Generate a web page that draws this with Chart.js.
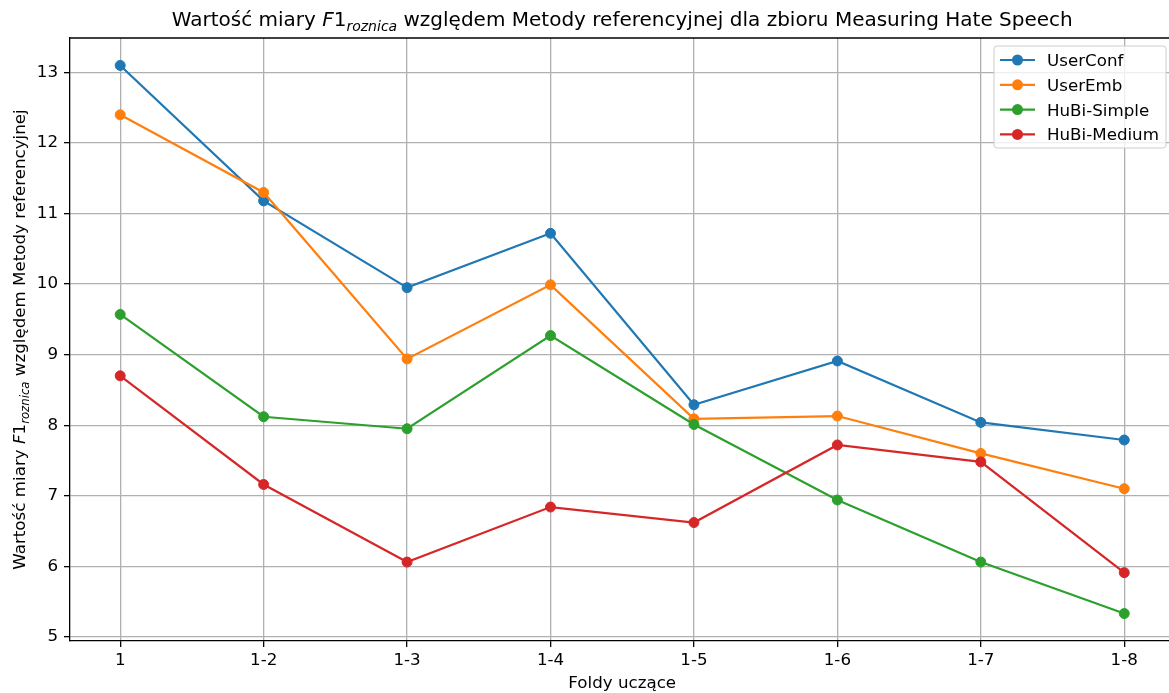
<!DOCTYPE html>
<html>
<head>
<meta charset="utf-8">
<script src="https://cdn.jsdelivr.net/npm/chart.js@4.4.1/dist/chart.umd.min.js"></script>
<style>
  html, body { margin: 0; padding: 0; background: #fff; overflow: hidden; }
  canvas { display: block; }
</style>
</head>
<body>
<canvas id="chart" width="1169" height="693"></canvas>
<script>
const folds = ['1', '1-2', '1-3', '1-4', '1-5', '1-6', '1-7', '1-8']
const yTicks = [5, 6, 7, 8, 9, 10, 11, 12, 13]

const userConf = [13.10, 11.18, 9.95, 10.72, 8.29, 8.91, 8.04, 7.79]
const userEmb = [12.40, 11.30, 8.94, 9.99, 8.09, 8.13, 7.60, 7.10]
const hubiSimple = [9.57, 8.12, 7.95, 9.27, 8.01, 6.94, 6.06, 5.33]
const hubiMedium = [8.70, 7.16, 6.06, 6.84, 6.62, 7.72, 7.48, 5.91]

const seriesNames = ['UserConf', 'UserEmb', 'HuBi-Simple', 'HuBi-Medium']
const seriesValues = [userConf, userEmb, hubiSimple, hubiMedium]
const colors = ['#1f77b4', '#ff7f0e', '#2ca02c', '#d62728']

const FONT = '"DejaVu Sans", sans-serif'
const FS = 16.7

// draws a line of text made of pieces (normal / italic / subscript)
function drawRich(ctx, parts, x, y, align) {
  let total = 0
  parts.forEach(p => {
    ctx.font = (p.italic ? 'italic ' : '') + p.size + 'px ' + FONT
    p.w = ctx.measureText(p.text).width
    total += p.w
  })
  let cx = align === 'center' ? x - total / 2 : x
  ctx.textAlign = 'left'
  ctx.textBaseline = 'alphabetic'
  parts.forEach(p => {
    ctx.font = (p.italic ? 'italic ' : '') + p.size + 'px ' + FONT
    ctx.fillText(p.text, cx, y + (p.dy || 0))
    cx += p.w
  })
}

const decorations = {
  id: 'decorations',
  afterDraw(chart) {
    const ctx = chart.ctx
    const a = chart.chartArea
    ctx.save()
    ctx.fillStyle = '#000'

    // top spine (the right one falls just past the canvas edge)
    ctx.strokeStyle = '#000'
    ctx.lineWidth = 1.3
    ctx.beginPath()
    ctx.moveTo(a.left, a.top)
    ctx.lineTo(a.right, a.top)
    ctx.stroke()

    // middle of the full axis span -0.35 .. 7.35
    const midX = chart.scales.x.getPixelForValue(3.5)
    drawRich(ctx, [
      { text: 'Wartość miary ', size: 20 },
      { text: 'F', size: 20, italic: true },
      { text: '1', size: 20 },
      { text: 'roznica', size: 14, italic: true, dy: 4.5 },
      { text: ' względem Metody referencyjnej dla zbioru Measuring Hate Speech', size: 20 }
    ], midX, 26, 'center')

    ctx.font = FS + 'px ' + FONT
    ctx.textAlign = 'center'
    ctx.fillText('Foldy uczące', midX, 688)

    ctx.save()
    ctx.translate(25, (a.top + a.bottom) / 2)
    ctx.rotate(-Math.PI / 2)
    drawRich(ctx, [
      { text: 'Wartość miary ', size: FS },
      { text: 'F', size: FS, italic: true },
      { text: '1', size: FS },
      { text: 'roznica', size: 11.7, italic: true, dy: 4 },
      { text: ' względem Metody referencyjnej', size: FS }
    ], 0, 0, 'center')
    ctx.restore()

    // legend box
    const lx = 994, ly = 46, lw = 172, lh = 102
    ctx.beginPath()
    ctx.roundRect(lx, ly, lw, lh, 3)
    ctx.fillStyle = 'rgba(255,255,255,0.8)'
    ctx.fill()
    ctx.strokeStyle = '#cccccc'
    ctx.lineWidth = 1
    ctx.stroke()
    seriesNames.forEach((name, i) => {
      const y = 60 + i * 24.8
      ctx.strokeStyle = colors[i]
      ctx.lineWidth = 2.2
      ctx.beginPath()
      ctx.moveTo(1000, y)
      ctx.lineTo(1035, y)
      ctx.stroke()
      ctx.fillStyle = colors[i]
      ctx.beginPath()
      ctx.arc(1017.5, y, 5.5, 0, Math.PI * 2)
      ctx.fill()
      ctx.fillStyle = '#000'
      ctx.font = FS + 'px ' + FONT
      ctx.textAlign = 'left'
      ctx.fillText(name, 1047, y + 6)
    })
    ctx.restore()
  }
}

const datasets = seriesNames.map((name, i) => ({
  label: name,
  data: seriesValues[i].map((v, j) => ({ x: j, y: v })),
  borderColor: colors[i],
  backgroundColor: colors[i],
  borderWidth: 2.2,
  pointRadius: 5,
  pointHoverRadius: 5,
  pointBorderWidth: 1,
  pointBorderColor: colors[i],
  tension: 0,
  clip: false,
  order: seriesNames.length - i
}))

new Chart(document.getElementById('chart'), {
  type: 'line',
  data: { datasets },
  options: {
    responsive: false,
    animation: false,
    devicePixelRatio: 1,
    layout: { autoPadding: false, padding: { top: 38, right: 0, left: 0, bottom: 0 } },
    plugins: {
      legend: { display: false },
      title: { display: false },
      tooltip: { enabled: false }
    },
    scales: {
      x: {
        type: 'linear',
        min: -0.35,
        max: 7.312,
        afterBuildTicks: s => { s.ticks = folds.map((f, i) => ({ value: i })) },
        afterFit: s => { s.height = 52; s.paddingLeft = 0; s.paddingRight = 0 },
        ticks: {
          callback: v => folds[v],
          color: '#000',
          font: { family: FONT, size: FS },
          padding: 4,
          maxRotation: 0
        },
        grid: { color: '#b0b0b0', lineWidth: 1.3, tickColor: '#000', tickLength: 6, tickWidth: 1.3 },
        border: { color: '#000', width: 1.3 }
      },
      y: {
        min: 4.941,
        max: 13.489,
        afterBuildTicks: s => { s.ticks = yTicks.map(v => ({ value: v })) },
        afterFit: s => { s.width = 70; s.paddingTop = 0; s.paddingBottom = 0 },
        ticks: {
          color: '#000',
          font: { family: FONT, size: FS },
          padding: 6
        },
        grid: { color: '#b0b0b0', lineWidth: 1.3, tickColor: '#000', tickLength: 6, tickWidth: 1.3 },
        border: { color: '#000', width: 1.3 }
      }
    }
  },
  plugins: [decorations]
})
</script>
</body>
</html>
